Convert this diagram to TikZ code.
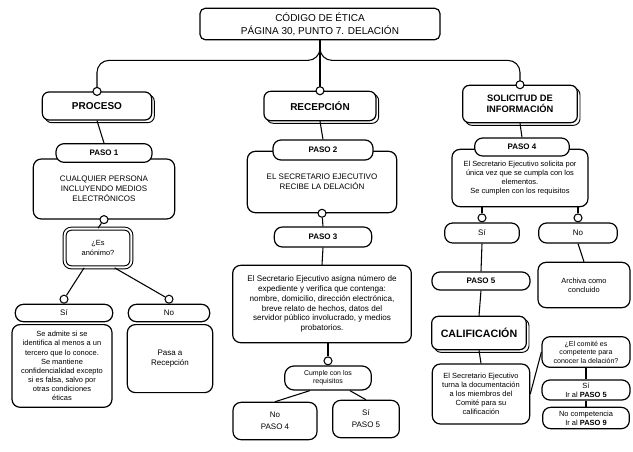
\documentclass[tikz,border=0pt]{standalone}
\usepackage{fontspec}
\setmainfont{Liberation Sans}
\usetikzlibrary{positioning, shadows}

\tikzset{
  headbox/.style={draw, line width=0.9pt, rounded corners=5pt, fill=white,
    copy shadow={shadow xshift=2pt, shadow yshift=-2pt, draw=black, fill=white, line width=0.7pt},
    align=center, font=\fontsize{7.5}{9}\selectfont\bfseries},
  pillbox/.style={draw, line width=0.9pt, rounded corners=6pt, fill=white,
    minimum width=72pt, minimum height=14pt, inner sep=1pt, align=center,
    font=\fontsize{6}{7}\selectfont\bfseries},
  bodybox/.style={draw, line width=0.9pt, rounded corners=6pt, fill=white,
    inner sep=2pt, align=center, font=\fontsize{5.6}{6.8}\selectfont},
  knob/.style={circle, draw, line width=0.8pt, fill=white, inner sep=0pt, minimum size=6pt},
  link/.style={line width=0.8pt}
}

\begin{document}
\begin{tikzpicture}[x=0.75pt, y=-0.75pt]
  \useasboundingbox (0,0) rectangle (633,451);

  % title
  \node[draw, line width=0.9pt, rounded corners=4pt, fill=white, minimum width=180pt,
    minimum height=21pt, align=center, font=\fontsize{7.5}{9.5}\selectfont]
    (title) at (320,24) {CÓDIGO DE ÉTICA\\PÁGINA 30, PUNTO 7. DELACIÓN};

  % section heads
  \node[headbox, minimum width=82pt, minimum height=21pt] (proc) at (97,106) {PROCESO};
  \node[headbox, minimum width=84pt, minimum height=22pt] (recep) at (320,106) {RECEPCIÓN};
  \node[headbox, minimum width=86pt, minimum height=28pt, font=\fontsize{7}{8.5}\selectfont\bfseries]
    (solic) at (520,104) {SOLICITUD DE\\INFORMACIÓN};
  \draw[link, rounded corners=9pt] (title.south) -- ++(0,20) -| (proc.north);
  \draw[link, rounded corners=9pt] (title.south) -- ++(0,20) -| (solic.north);
  \draw[link] (title.south) -- (recep.north);
  \node[knob] (kp) at (proc.north) {};
  \node[knob] (kr) at (recep.north) {};
  \node[knob] (ks) at (solic.north) {};

  % PROCESO column
  \node[bodybox, minimum width=106pt, minimum height=45pt, font=\fontsize{6}{7.4}\selectfont]
    (p1body) at (104,189) {CUALQUIER PERSONA\\INCLUYENDO MEDIOS\\ELECTRÓNICOS};
  \node[pillbox] (paso1) at (104,153) {PASO 1};
  \draw[link] (proc.south) -- (paso1.north);
  \node[knob] (k1) at (p1body.south) {};
  \node[draw, line width=0.8pt, double, double distance=1.4pt, rounded corners=5pt, fill=white,
    minimum width=50pt, minimum height=29pt, align=center, font=\fontsize{5.6}{7}\selectfont]
    (anon) at (98,248) {¿Es\\anónimo?};
  \draw[link] (k1) -- (anon.north);
  \node[pillbox, minimum width=73pt, minimum height=13pt, font=\fontsize{6}{7}\selectfont]
    (si1) at (64,313) {Sí};
  \node[pillbox, minimum width=61pt, minimum height=13pt, font=\fontsize{6}{7}\selectfont]
    (no1) at (169,313) {No};
  \node[knob, above=0pt of si1] (ksi1) {};
  \node[knob, above=0pt of no1] (kno1) {};
  \draw[link] (anon.-125) -- (ksi1);
  \draw[link] (anon.-50) -- (kno1);
  \node[bodybox, minimum width=75pt, minimum height=62pt, anchor=north] (si1body) at (62,324)
    {Se admite si se\\identifica al menos a un\\tercero que lo conoce.\\Se mantiene\\confidencialidad excepto\\si es falsa, salvo por\\otras condiciones\\éticas};
  \node[bodybox, minimum width=64pt, minimum height=51pt, anchor=north, font=\fontsize{6}{7.4}\selectfont]
    (no1body) at (170,324) {Pasa a\\Recepción};

  % RECEPCION column
  \node[bodybox, minimum width=112pt, minimum height=46pt, font=\fontsize{6}{7.4}\selectfont]
    (p2body) at (322,182) {EL SECRETARIO EJECUTIVO\\RECIBE LA DELACIÓN};
  \node[pillbox, minimum width=75pt, minimum height=15pt] (paso2) at (323,150) {PASO 2};
  \draw[link] (recep.south) -- (paso2.north);
  \node[knob] (k2) at (p2body.south) {};
  \node[pillbox, minimum width=73pt, minimum height=15pt] (paso3) at (323,237) {PASO 3};
  \draw[link] (k2) -- (paso3.north);
  \node[bodybox, minimum width=134pt, minimum height=58pt, font=\fontsize{6.1}{7.4}\selectfont]
    (p3body) at (322,304)
    {El Secretario Ejecutivo asigna número de\\expediente y verifica que contenga:\\nombre, domicilio, dirección electrónica,\\breve relato de hechos, datos del\\servidor público involucrado, y medios\\probatorios.};
  \draw[link] (paso3.south) -- (p3body.north);
  \node[bodybox, minimum width=65pt, minimum height=18pt, rounded corners=7pt, font=\fontsize{5.2}{6.2}\selectfont]
    (cumple) at (328,378) {Cumple con los\\requisitos};
  \node[knob, above=0pt of cumple] (kc) {};
  \draw[link] (p3body.south -| kc) -- (kc);
  \node[bodybox, minimum width=63pt, minimum height=28pt, font=\fontsize{6}{9}\selectfont]
    (no2) at (275,421) {No\\PASO 4};
  \node[bodybox, minimum width=50pt, minimum height=28pt, font=\fontsize{6}{9}\selectfont]
    (si2) at (366,419) {Sí\\PASO 5};
  \draw[link] (cumple.-145) -- (no2.north);
  \draw[link] (cumple.-30) -- (si2.north);

  % SOLICITUD column
  \node[bodybox, minimum width=102pt, minimum height=43pt] (p4body) at (520,178)
    {El Secretario Ejecutivo solicita por\\única vez que se cumpla con los\\elementos.\\Se cumplen con los requisitos};
  \node[pillbox, minimum width=71pt, minimum height=13.5pt] (paso4) at (522,147) {PASO 4};
  \draw[link] (solic.south) -- (paso4.north);
  \node[pillbox, minimum width=56pt, minimum height=15pt, font=\fontsize{6}{7}\selectfont]
    (si3) at (482,233) {Sí};
  \node[pillbox, minimum width=59pt, minimum height=15pt, font=\fontsize{6}{7}\selectfont]
    (no3) at (578,233) {No};
  \node[knob, above=0pt of si3] (ksi3) {};
  \node[knob, above=0pt of no3] (kno3) {};
  \draw[link] (p4body.south -| ksi3) -- (ksi3);
  \draw[link] (p4body.south -| kno3) -- (kno3);
  \node[pillbox, minimum width=73.5pt, minimum height=13.5pt] (paso5) at (481,281) {PASO 5};
  \draw[link] (si3.south) -- (paso5.north);
  \node[bodybox, minimum width=69pt, minimum height=34pt] (archiva) at (584,285)
    {Archiva como\\concluido};
  \draw[link] (no3.south) -- (archiva.north);
  \node[headbox, minimum width=71pt, minimum height=25pt, font=\fontsize{8}{9}\selectfont\bfseries]
    (calif) at (479,333) {CALIFICACIÓN};
  \draw[link] (paso5.south) -- (calif.north);
  \node[bodybox, minimum width=73pt, minimum height=45pt] (turna) at (481,394)
    {El Secretario Ejecutivo\\turna la documentación\\a los miembros del\\Comité para su\\calificación};
  \draw[link] (calif.south) -- (turna.north);
  \node[bodybox, minimum width=66pt, minimum height=23pt, font=\fontsize{5.3}{6.4}\selectfont]
    (comite) at (586,352) {¿El comité es\\competente para\\conocer la delación?};
  \draw[link] (turna.east) -- (comite.west);
  \node[bodybox, minimum width=66pt, minimum height=15pt, font=\fontsize{5.6}{6.8}\selectfont]
    (sicomp) at (586,390) {Sí\\Ir al \textbf{PASO 5}};
  \node[bodybox, minimum width=65pt, minimum height=16pt, font=\fontsize{5.6}{6.8}\selectfont]
    (nocomp) at (586,418) {No competencia\\Ir al \textbf{PASO 9}};
  \draw[link] (comite.south) -- (sicomp.north);
  \draw[link] (sicomp.south) -- (nocomp.north);
\end{tikzpicture}
\end{document}
